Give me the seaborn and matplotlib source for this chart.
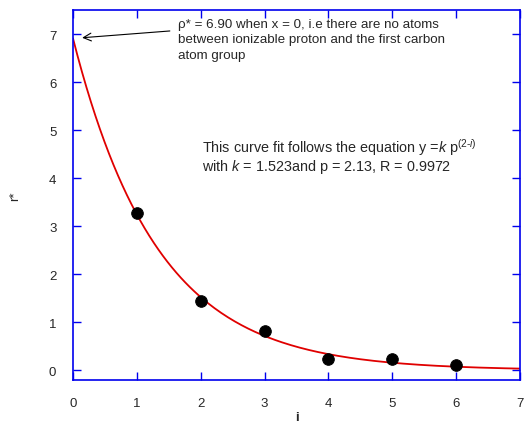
import numpy as np
import pandas as pd
import matplotlib
matplotlib.use('Agg')
import matplotlib.pyplot as plt
import seaborn as sns

# --- DATOS ---
i_obs = [1, 2, 3, 4, 5, 6]
r_obs = [3.28, 1.45, 0.81, 0.23, 0.23, 0.12]

# parametros del ajuste y = k * p^(2-i)
K_FIT = 1.523
P_FIT = 2.13

x_ticks = [0, 1, 2, 3, 4, 5, 6, 7]
y_ticks = [0, 1, 2, 3, 4, 5, 6, 7]

BLUE = '#0000ee'

sns.set_style('ticks')
plt.rcParams['font.family'] = ['Liberation Sans', 'DejaVu Sans']
plt.rcParams['mathtext.fontset'] = 'custom'
plt.rcParams['mathtext.rm'] = 'Liberation Sans'
plt.rcParams['mathtext.it'] = 'Liberation Sans:italic'

fig = plt.figure(figsize=(5.29, 4.27), dpi=100)
ax = fig.add_axes([0.138, 0.108, 0.845, 0.866])

# curva ajustada
x_fit = np.linspace(0, 7, 200)
df_fit = pd.DataFrame({'i': x_fit, 'r': K_FIT * P_FIT ** (2 - x_fit)})
sns.lineplot(data=df_fit, x='i', y='r', color='#e00000', linewidth=1.3, ax=ax)

df_obs = pd.DataFrame({'i': i_obs, 'r': r_obs})
sns.scatterplot(data=df_obs, x='i', y='r', color='black', s=70,
                edgecolor='black', zorder=3, ax=ax)

ax.set_xlim(0, 7)
ax.set_ylim(-0.2, 7.5)
ax.set_xticks(x_ticks)
ax.set_yticks(y_ticks)
ax.tick_params(direction='in', length=6, width=1, color=BLUE,
               top=True, right=True, labelsize=9.5, pad=12)
for sp in ax.spines.values():
    sp.set_color(BLUE)
    sp.set_linewidth(1.2)

ax.set_xlabel('i', fontsize=9.5, fontweight='bold', labelpad=2)
ax.set_ylabel('r*', fontsize=9.5, labelpad=20)

# nota con flecha hacia el punto x = 0
ax.text(1.64, 7.34,
        'ρ* = 6.90 when x = 0, i.e there are no atoms\n'
        'between ionizable proton and the first carbon\n'
        'atom group',
        fontsize=9.6, va='top', ha='left', linespacing=1.4)
ax.annotate('', xy=(0.1, 6.92), xytext=(1.56, 7.07),
            arrowprops=dict(arrowstyle='->', color='black', lw=0.8,
                            mutation_scale=14))

ax.text(2.02, 4.55, r'This curve fit follows the equation y =$\it{k}$ p$^{(2\mathrm{\text{-}}i)}$',
        fontsize=10.4, va='baseline')
ax.text(2.02, 4.17, r'with $\it{k}$ = 1.523and p = 2.13, R = 0.9972',
        fontsize=10.4, va='baseline')

plt.savefig('out.png', dpi=100)
